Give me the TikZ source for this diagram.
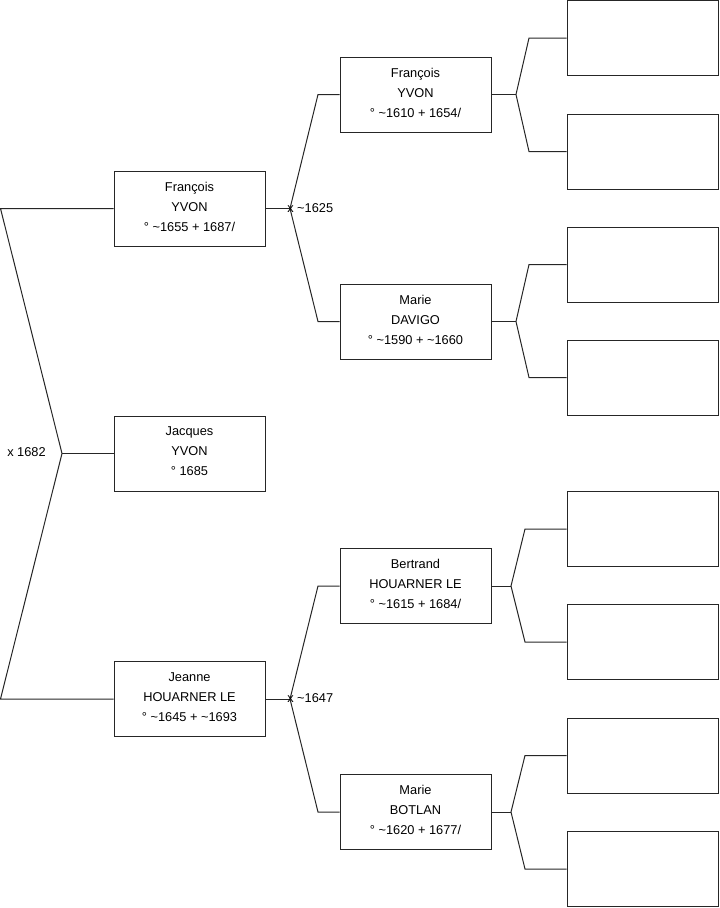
\documentclass[tikz,border=0pt]{standalone}
\usepackage{fontspec}
\setmainfont{Liberation Sans}
\begin{document}
\begin{tikzpicture}[x=0.75pt,y=-0.75pt,
  person/.style={draw=black!85,line width=0.75pt,minimum width=113.25pt,minimum height=56.25pt,inner sep=0pt,align=center,font=\fontsize{9.6}{15}\selectfont},
  link/.style={draw=black!85,line width=0.75pt},
  lbl/.style={inner sep=0pt,font=\fontsize{9.6}{11}\selectfont}]
\useasboundingbox (0,0) rectangle (719,908);
% generation 1
\node[person] (f1) at (189.5,208.5) {François\\YVON\\° \textasciitilde1655 + 1687/\\[-12pt]};
\node[person] (jq) at (189.5,453.5) {Jacques\\YVON\\° 1685\\[-12pt]};
\node[person] (je) at (189.5,699) {Jeanne\\HOUARNER LE\\° \textasciitilde1645 + \textasciitilde1693\\[-12pt]};
% generation 2
\node[person] (f2) at (415.5,94.5) {François\\YVON\\° \textasciitilde1610 + 1654/\\[-12pt]};
\node[person] (md) at (415.5,321.5) {Marie\\DAVIGO\\° \textasciitilde1590 + \textasciitilde1660\\[-12pt]};
\node[person] (bh) at (415.5,586) {Bertrand\\HOUARNER LE\\° \textasciitilde1615 + 1684/\\[-12pt]};
\node[person] (mb) at (415.5,812) {Marie\\BOTLAN\\° \textasciitilde1620 + 1677/\\[-12pt]};
% generation 3 (empty)
\node[person] (e1) at (642.5,38) {};
\node[person] (e2) at (642.5,151.5) {};
\node[person] (e3) at (642.5,264.5) {};
\node[person] (e4) at (642.5,377.5) {};
\node[person] (e5) at (642.5,529) {};
\node[person] (e6) at (642.5,642) {};
\node[person] (e7) at (642.5,755.5) {};
\node[person] (e8) at (642.5,869) {};
% junction coordinates
\coordinate (j0) at (62,453.5);
\coordinate (a1) at (0.5,208.5);
\coordinate (a2) at (0.5,699);
\coordinate (j1) at (290,208.5);
\coordinate (j2) at (290,699);
\coordinate (j3) at (516,94.5);
\coordinate (j4) at (516,321.5);
\coordinate (j5) at (511,586);
\coordinate (j6) at (511,812);
% gen1 bracket
\draw[link] (f1.west) -- (a1) -- (j0) -- (a2) -- (je.west);
\draw[link] (j0) -- (jq.west);
\node[lbl,anchor=east] (m0) at (46,452) {x 1682};
% gen2 brackets
\draw[link] (f1.east) -- (j1);
\draw[link] (f2.west) -- (318,94.5) -- (j1) -- (318,321.5) -- (md.west);
\node[lbl,anchor=west] (m1) at (287,208.5) {x \textasciitilde1625};
\draw[link] (je.east) -- (j2);
\draw[link] (bh.west) -- (318,586) -- (j2) -- (318,812) -- (mb.west);
\node[lbl,anchor=west] (m2) at (287,698) {x \textasciitilde1647};
% gen3 brackets
\draw[link] (f2.east) -- (j3);
\draw[link] (e1.west) -- (529,38) -- (j3) -- (529,151.5) -- (e2.west);
\draw[link] (md.east) -- (j4);
\draw[link] (e3.west) -- (529,264.5) -- (j4) -- (529,377.5) -- (e4.west);
\draw[link] (bh.east) -- (j5);
\draw[link] (e5.west) -- (525,529) -- (j5) -- (525,642) -- (e6.west);
\draw[link] (mb.east) -- (j6);
\draw[link] (e7.west) -- (525,755.5) -- (j6) -- (525,869) -- (e8.west);
\end{tikzpicture}
\end{document}
